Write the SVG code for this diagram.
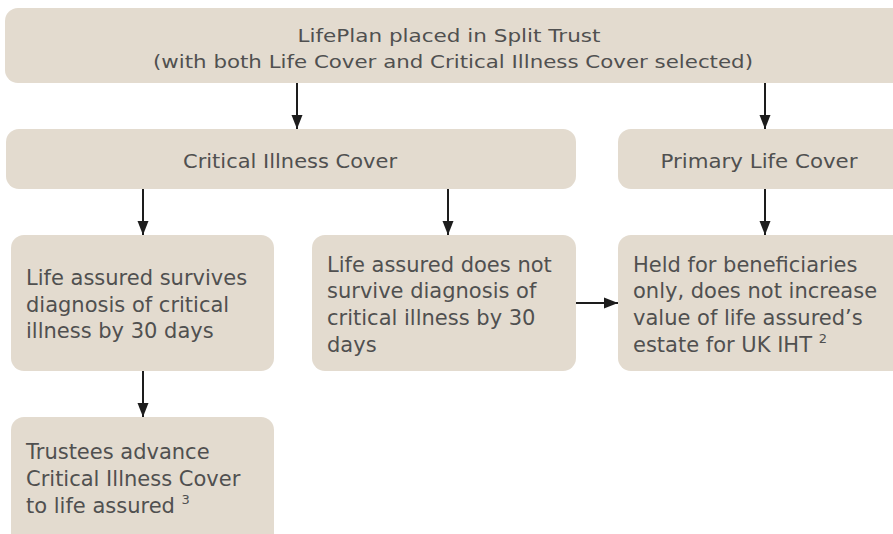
<svg xmlns="http://www.w3.org/2000/svg" width="893" height="534" viewBox="0 0 893 534">
  <style>
    .box { fill: #e3dbcf; }
    .t { font-family: "DejaVu Sans", "Liberation Sans", sans-serif; fill: #505050; }
    .head { font-size: 18.5px; text-anchor: middle; }
    .mid { font-size: 19px; text-anchor: middle; }
    .body { font-size: 21px; }
    .sup { font-size: 13px; }
    .conn { stroke: #1d1d1d; stroke-width: 2; fill: none; }
  </style>
  <defs>
    <marker id="arrow" markerWidth="14" markerHeight="14" viewBox="0 0 14 14" refX="14" refY="7" orient="auto" markerUnits="userSpaceOnUse">
      <path d="M0,1.5 L14,7 L0,12.5 Z" fill="#1d1d1d"/>
    </marker>
  </defs>

  <g id="connectors">
    <line class="conn" x1="297" y1="83" x2="297" y2="129" marker-end="url(#arrow)"/>
    <line class="conn" x1="765" y1="83" x2="765" y2="129" marker-end="url(#arrow)"/>
    <line class="conn" x1="143" y1="189" x2="143" y2="235" marker-end="url(#arrow)"/>
    <line class="conn" x1="448" y1="189" x2="448" y2="235" marker-end="url(#arrow)"/>
    <line class="conn" x1="765" y1="189" x2="765" y2="235" marker-end="url(#arrow)"/>
    <line class="conn" x1="143" y1="371" x2="143" y2="417" marker-end="url(#arrow)"/>
    <line class="conn" x1="574" y1="303" x2="618" y2="303" marker-end="url(#arrow)"/>
  </g>

  <g id="split-trust">
    <rect class="box" x="5" y="8" width="900" height="75" rx="13"/>
    <text class="t head" x="449" y="42" textLength="303" lengthAdjust="spacingAndGlyphs">LifePlan placed in Split Trust</text>
    <text class="t head" x="453" y="68" textLength="600" lengthAdjust="spacingAndGlyphs">(with both Life Cover and Critical Illness Cover selected)</text>
  </g>

  <g id="critical-illness-cover">
    <rect class="box" x="6" y="129" width="570" height="60" rx="13"/>
    <text class="t mid" x="290" y="168" textLength="214" lengthAdjust="spacingAndGlyphs">Critical Illness Cover</text>
  </g>

  <g id="primary-life-cover">
    <rect class="box" x="618" y="129" width="290" height="60" rx="13"/>
    <text class="t mid" x="759" y="168" textLength="197" lengthAdjust="spacingAndGlyphs">Primary Life Cover</text>
  </g>

  <g id="survives">
    <rect class="box" x="11" y="235" width="263" height="136" rx="13"/>
    <text class="t body" x="26" y="285">Life assured survives</text>
    <text class="t body" x="26" y="312">diagnosis of critical</text>
    <text class="t body" x="26" y="338">illness by 30 days</text>
  </g>

  <g id="does-not-survive">
    <rect class="box" x="312" y="235" width="264" height="136" rx="13"/>
    <text class="t body" x="327" y="272">Life assured does not</text>
    <text class="t body" x="327" y="298">survive diagnosis of</text>
    <text class="t body" x="327" y="325">critical illness by 30</text>
    <text class="t body" x="327" y="352">days</text>
  </g>

  <g id="held-for-beneficiaries">
    <rect class="box" x="618" y="235" width="290" height="136" rx="13"/>
    <text class="t body" x="633" y="272">Held for beneficiaries</text>
    <text class="t body" x="633" y="298">only, does not increase</text>
    <text class="t body" x="633" y="325">value of life assured’s</text>
    <text class="t body" x="633" y="352">estate for UK IHT <tspan class="sup" dy="-9">2</tspan></text>
  </g>

  <g id="trustees-advance">
    <rect class="box" x="11" y="417" width="263" height="140" rx="13"/>
    <text class="t body" x="26" y="459">Trustees advance</text>
    <text class="t body" x="26" y="486">Critical Illness Cover</text>
    <text class="t body" x="26" y="513">to life assured <tspan class="sup" dy="-9">3</tspan></text>
  </g>
</svg>
